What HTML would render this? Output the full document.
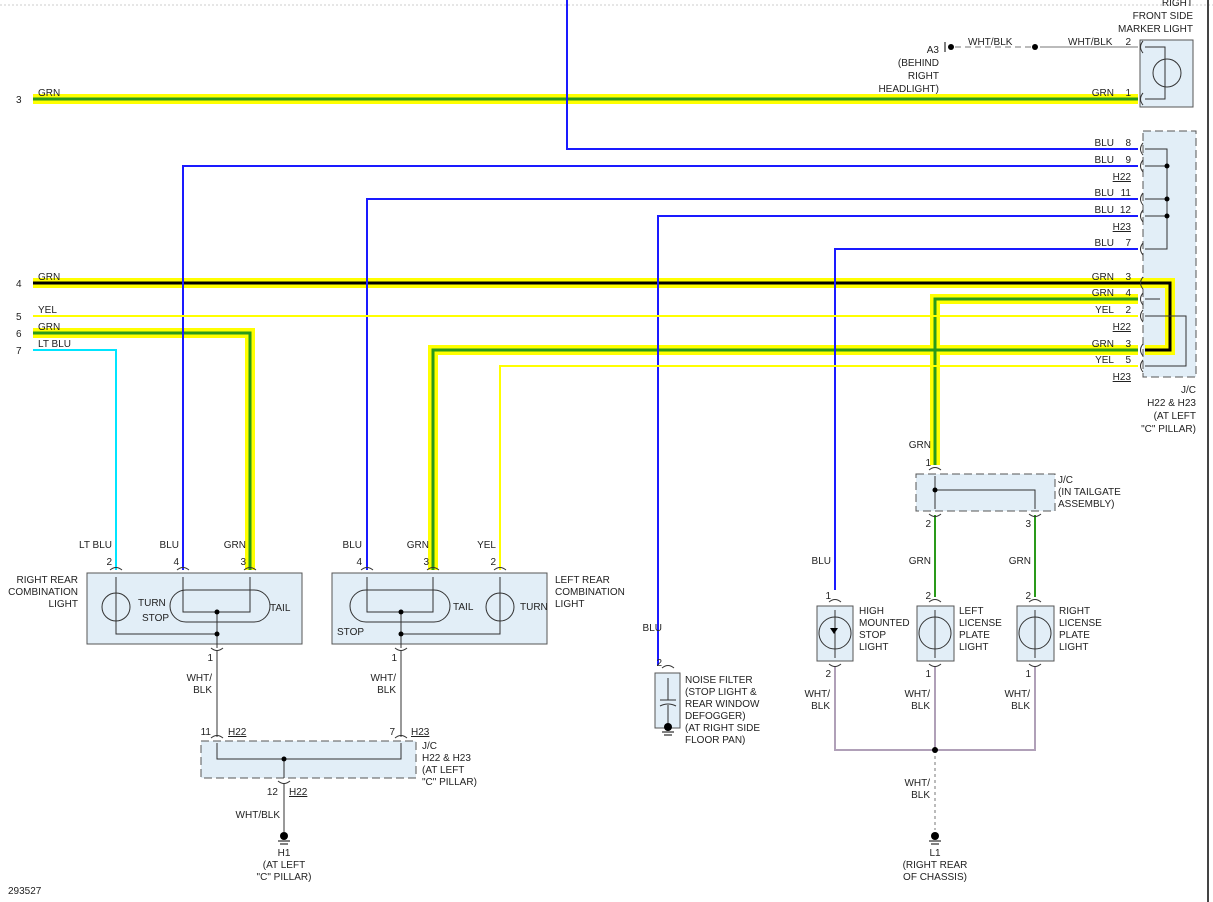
<!DOCTYPE html>
<html><head><meta charset="utf-8"><style>
html,body{margin:0;padding:0;background:#fff}
svg{display:block;font-family:"Liberation Sans",sans-serif;font-size:10px}
</style></head><body>
<svg width="1213" height="902" viewBox="0 0 1213 902">
<line x1="0" y1="5" x2="1213" y2="5" stroke="#ccc" stroke-dasharray="2,2"/>
<line x1="1208" y1="0" x2="1208" y2="902" stroke="#444" stroke-width="2"/>

<g fill="#e2eef7" stroke="#555">
<rect x="1140" y="40" width="53" height="67"/>
<rect x="1143" y="131" width="53" height="246" stroke-dasharray="8,4"/>
<rect x="87" y="573" width="215" height="71"/>
<rect x="332" y="573" width="215" height="71"/>
<rect x="201" y="741" width="215" height="37" stroke-dasharray="8,4"/>
<rect x="655" y="673" width="25" height="55"/>
<rect x="916" y="474" width="139" height="37" stroke-dasharray="8,4"/>
<rect x="817" y="606" width="36" height="55"/>
<rect x="917" y="606" width="37" height="55"/>
<rect x="1017" y="606" width="37" height="55"/>
</g>

<g fill="none" stroke="#ffff00" stroke-width="10" stroke-linejoin="miter">
<line x1="33" y1="99" x2="1138" y2="99"/>
<polyline points="33,283 1170,283 1170,350 1145,350"/>
<polyline points="935,465 935,299 1138,299"/>
<polyline points="33,333 250,333 250,570"/>
<polyline points="433,570 433,350 1138,350"/>
</g>
<g fill="none" stroke="#2a9a1a" stroke-width="3">
<line x1="33" y1="99" x2="1138" y2="99"/>
<polyline points="935,465 935,299 1138,299"/>
<polyline points="33,333 250,333 250,570"/>
<polyline points="433,570 433,350 1138,350"/>
</g>
<polyline points="33,283 1170,283 1170,350 1145,350" fill="none" stroke="#000" stroke-width="3"/>

<g fill="none" stroke-width="2">
<polyline points="567,0 567,149 1138,149" stroke="#1a1aff"/>
<polyline points="183,570 183,166 1138,166" stroke="#1a1aff"/>
<polyline points="367,570 367,199 1138,199" stroke="#1a1aff"/>
<polyline points="658,665 658,216 1138,216" stroke="#1a1aff"/>
<polyline points="835,590 835,249 1138,249" stroke="#1a1aff"/>
<line x1="33" y1="316" x2="1138" y2="316" stroke="#ffff00"/>
<polyline points="500,570 500,366 1138,366" stroke="#ffff00"/>
<polyline points="33,350 116,350 116,570" stroke="#00e5ff"/>
<line x1="935" y1="515" x2="935" y2="597" stroke="#2a9a1a"/>
<line x1="1035" y1="515" x2="1035" y2="597" stroke="#2a9a1a"/>
</g>
<g fill="none" stroke="#999" stroke-width="2">
<line x1="1040" y1="47" x2="1138" y2="47" stroke="#bbb"/>
<line x1="955" y1="47" x2="1035" y2="47" stroke="#bbb" stroke-dasharray="6,4"/>
<line x1="217" y1="650" x2="217" y2="737"/>
<line x1="401" y1="650" x2="401" y2="737"/>
<line x1="284" y1="783" x2="284" y2="832"/>
<polyline points="835,666 835,750 1035,750 1035,666" stroke="#b0a0b8"/>
<line x1="935" y1="666" x2="935" y2="750" stroke="#b0a0b8"/>
<line x1="935" y1="750" x2="935" y2="830" stroke="#bbb" stroke-dasharray="3,3"/>
</g>

<g fill="none" stroke="#333" stroke-width="1">
<polyline points="1145,47 1165,47 1165,99 1145,99"/>
<circle cx="1167" cy="73" r="14"/>
<polyline points="1145,149 1167,149 1167,249 1145,249"/>
<line x1="1145" y1="166" x2="1167" y2="166"/><line x1="1145" y1="199" x2="1167" y2="199"/><line x1="1145" y1="216" x2="1167" y2="216"/>
<line x1="1145" y1="299" x2="1160" y2="299"/>
<polyline points="1145,316 1186,316 1186,366 1145,366"/>
<polyline points="116,577 116,634 217,634 217,648"/>
<circle cx="116" cy="607" r="14"/>
<rect x="170" y="590" width="100" height="32" rx="16"/>
<polyline points="183,577 183,612 250,612 250,577"/>
<line x1="217" y1="612" x2="217" y2="634"/>
<polyline points="500,577 500,634 401,634 401,648"/>
<circle cx="500" cy="607" r="14"/>
<rect x="350" y="590" width="100" height="32" rx="16"/>
<polyline points="367,577 367,612 433,612 433,577"/>
<line x1="401" y1="612" x2="401" y2="634"/>
<polyline points="217,743 217,759 401,759 401,743"/>
<line x1="284" y1="759" x2="284" y2="778"/>
<line x1="668" y1="678" x2="668" y2="700"/><line x1="660" y1="700" x2="676" y2="700"/>
<path d="M660,706 Q668,702 676,706"/><line x1="668" y1="705" x2="668" y2="724"/>
<line x1="935" y1="476" x2="935" y2="509"/>
<polyline points="935,490 1035,490 1035,509"/>
<line x1="835" y1="610" x2="835" y2="658"/><circle cx="835" cy="633" r="16"/>
<line x1="935" y1="610" x2="935" y2="658"/><circle cx="935" cy="633" r="16"/>
<line x1="1035" y1="610" x2="1035" y2="658"/><circle cx="1035" cy="633" r="16"/>
</g>
<g fill="#000">
<circle cx="1167" cy="166" r="2.5"/><circle cx="1167" cy="199" r="2.5"/><circle cx="1167" cy="216" r="2.5"/>
<circle cx="217" cy="612" r="2.5"/><circle cx="217" cy="634" r="2.5"/>
<circle cx="401" cy="612" r="2.5"/><circle cx="401" cy="634" r="2.5"/>
<circle cx="284" cy="759" r="2.5"/><circle cx="935" cy="490" r="2.5"/>
<circle cx="935" cy="750" r="3"/><circle cx="1035" cy="47" r="3"/><circle cx="951" cy="47" r="3"/>
<circle cx="284" cy="836" r="4"/><circle cx="935" cy="836" r="4"/><circle cx="668" cy="727" r="4"/>
<path d="M830,628 l8,0 l-4,6z"/>
</g>
<g stroke="#000" stroke-width="1">
<line x1="278" y1="841" x2="290" y2="841"/><line x1="280" y1="844" x2="288" y2="844"/>
<line x1="929" y1="841" x2="941" y2="841"/><line x1="931" y1="844" x2="939" y2="844"/>
<line x1="662" y1="732" x2="674" y2="732"/><line x1="664" y1="735" x2="672" y2="735"/>
<line x1="945" y1="42" x2="945" y2="52"/>
</g>
<g fill="none" stroke="#333">
<path d="M110,570 q6,-5 12,0"/><path d="M177,570 q6,-5 12,0"/><path d="M244,570 q6,-5 12,0"/>
<path d="M361,570 q6,-5 12,0"/><path d="M427,570 q6,-5 12,0"/><path d="M494,570 q6,-5 12,0"/>
<path d="M211,648 q6,5 12,0"/><path d="M395,648 q6,5 12,0"/>
<path d="M211,738 q6,-5 12,0"/><path d="M395,738 q6,-5 12,0"/><path d="M278,781 q6,5 12,0"/>
<path d="M662,668 q6,-5 12,0"/><path d="M929,470 q6,-5 12,0"/><path d="M929,514 q6,5 12,0"/><path d="M1029,514 q6,5 12,0"/>
<path d="M829,602 q6,-5 12,0"/><path d="M929,602 q6,-5 12,0"/><path d="M1029,602 q6,-5 12,0"/>
<path d="M829,664 q6,5 12,0"/><path d="M929,664 q6,5 12,0"/><path d="M1029,664 q6,5 12,0"/>
<path d="M1143,41 q-5,6 0,12"/><path d="M1143,93 q-5,6 0,12"/>
<path d="M1143,143 q-5,6 0,12"/><path d="M1143,160 q-5,6 0,12"/><path d="M1143,193 q-5,6 0,12"/><path d="M1143,210 q-5,6 0,12"/><path d="M1143,243 q-5,6 0,12"/>
<path d="M1143,277 q-5,6 0,12"/><path d="M1143,293 q-5,6 0,12"/><path d="M1143,310 q-5,6 0,12"/><path d="M1143,344 q-5,6 0,12"/><path d="M1143,360 q-5,6 0,12"/>
</g>

<g fill="#222">
<text x="16" y="103">3</text><text x="38" y="96">GRN</text>
<text x="16" y="287">4</text><text x="38" y="280">GRN</text>
<text x="16" y="320">5</text><text x="38" y="313">YEL</text>
<text x="16" y="337">6</text><text x="38" y="330">GRN</text>
<text x="16" y="354">7</text><text x="38" y="347">LT BLU</text>
<g text-anchor="end">
<text x="1131" y="45">2</text>
<text x="1114" y="96">GRN</text><text x="1131" y="96">1</text>
<text x="1114" y="146">BLU</text><text x="1131" y="146">8</text>
<text x="1114" y="163">BLU</text><text x="1131" y="163">9</text>
<text x="1131" y="180" text-decoration="underline">H22</text>
<text x="1114" y="196">BLU</text><text x="1131" y="196">11</text>
<text x="1114" y="213">BLU</text><text x="1131" y="213">12</text>
<text x="1131" y="230" text-decoration="underline">H23</text>
<text x="1114" y="246">BLU</text><text x="1131" y="246">7</text>
<text x="1114" y="280">GRN</text><text x="1131" y="280">3</text>
<text x="1114" y="296">GRN</text><text x="1131" y="296">4</text>
<text x="1114" y="313">YEL</text><text x="1131" y="313">2</text>
<text x="1131" y="330" text-decoration="underline">H22</text>
<text x="1114" y="347">GRN</text><text x="1131" y="347">3</text>
<text x="1114" y="363">YEL</text><text x="1131" y="363">5</text>
<text x="1131" y="380" text-decoration="underline">H23</text>
<text x="1193" y="6">RIGHT</text><text x="1193" y="19">FRONT SIDE</text><text x="1193" y="32">MARKER LIGHT</text>
<text x="1196" y="393">J/C</text><text x="1196" y="406">H22 &amp; H23</text><text x="1196" y="419">(AT LEFT</text><text x="1196" y="432">"C" PILLAR)</text>
<text x="939" y="53">A3</text><text x="939" y="66">(BEHIND</text><text x="939" y="79">RIGHT</text><text x="939" y="92">HEADLIGHT)</text>
<text x="78" y="583">RIGHT REAR</text><text x="78" y="595">COMBINATION</text><text x="78" y="607">LIGHT</text>
<text x="112" y="548">LT BLU</text><text x="179" y="548">BLU</text><text x="246" y="548">GRN</text>
<text x="362" y="548">BLU</text><text x="429" y="548">GRN</text><text x="496" y="548">YEL</text>
<text x="112" y="565">2</text><text x="179" y="565">4</text><text x="246" y="565">3</text>
<text x="362" y="565">4</text><text x="429" y="565">3</text><text x="496" y="565">2</text>
<text x="213" y="661">1</text><text x="397" y="661">1</text>
<text x="212" y="681">WHT/</text><text x="212" y="693">BLK</text>
<text x="396" y="681">WHT/</text><text x="396" y="693">BLK</text>
<text x="211" y="735">11</text><text x="395" y="735">7</text><text x="278" y="795">12</text>
<text x="280" y="818">WHT/BLK</text>
<text x="662" y="631">BLU</text><text x="662" y="666">2</text>
<text x="931" y="448">GRN</text><text x="931" y="466">1</text>
<text x="931" y="527">2</text><text x="1031" y="527">3</text>
<text x="931" y="564">GRN</text><text x="1031" y="564">GRN</text>
<text x="831" y="564">BLU</text>
<text x="831" y="599">1</text><text x="931" y="599">2</text><text x="1031" y="599">2</text>
<text x="831" y="677">2</text><text x="931" y="677">1</text><text x="1031" y="677">1</text>
<text x="830" y="697">WHT/</text><text x="830" y="709">BLK</text>
<text x="930" y="697">WHT/</text><text x="930" y="709">BLK</text>
<text x="1030" y="697">WHT/</text><text x="1030" y="709">BLK</text>
<text x="930" y="786">WHT/</text><text x="930" y="798">BLK</text>
</g>
<text x="1068" y="45">WHT/BLK</text>
<text x="968" y="45">WHT/BLK</text>
<text x="228" y="735" text-decoration="underline">H22</text>
<text x="411" y="735" text-decoration="underline">H23</text>
<text x="289" y="795" text-decoration="underline">H22</text>
<text x="422" y="749">J/C</text><text x="422" y="761">H22 &amp; H23</text><text x="422" y="773">(AT LEFT</text><text x="422" y="785">"C" PILLAR)</text>
<text x="138" y="606">TURN</text><text x="142" y="621">STOP</text><text x="270" y="611">TAIL</text>
<text x="453" y="610">TAIL</text><text x="520" y="610">TURN</text><text x="337" y="635">STOP</text>
<text x="555" y="583">LEFT REAR</text><text x="555" y="595">COMBINATION</text><text x="555" y="607">LIGHT</text>
<text x="685" y="683">NOISE FILTER</text><text x="685" y="695">(STOP LIGHT &amp;</text><text x="685" y="707">REAR WINDOW</text><text x="685" y="719">DEFOGGER)</text><text x="685" y="731">(AT RIGHT SIDE</text><text x="685" y="743">FLOOR PAN)</text>
<text x="1058" y="483">J/C</text><text x="1058" y="495">(IN TAILGATE</text><text x="1058" y="507">ASSEMBLY)</text>
<text x="859" y="614">HIGH</text><text x="859" y="626">MOUNTED</text><text x="859" y="638">STOP</text><text x="859" y="650">LIGHT</text>
<text x="959" y="614">LEFT</text><text x="959" y="626">LICENSE</text><text x="959" y="638">PLATE</text><text x="959" y="650">LIGHT</text>
<text x="1059" y="614">RIGHT</text><text x="1059" y="626">LICENSE</text><text x="1059" y="638">PLATE</text><text x="1059" y="650">LIGHT</text>
<g text-anchor="middle">
<text x="284" y="856">H1</text><text x="284" y="868">(AT LEFT</text><text x="284" y="880">"C" PILLAR)</text>
<text x="935" y="856">L1</text><text x="935" y="868">(RIGHT REAR</text><text x="935" y="880">OF CHASSIS)</text>
</g>
<text x="8" y="894">293527</text>
</g>
</svg>
</body></html>
